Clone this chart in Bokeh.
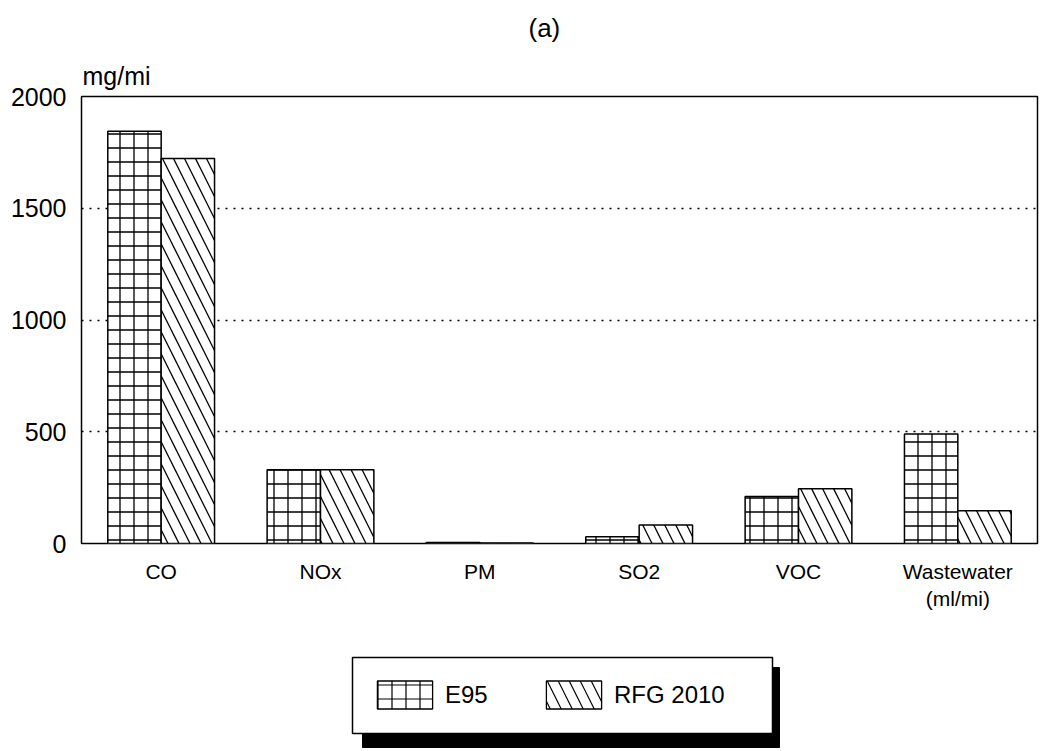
from bokeh.plotting import figure
from bokeh.models import (ColumnDataSource, FactorRange, Range1d, FixedTicker,
                          Title, Legend, LegendItem)
from bokeh.transform import dodge
from bokeh.layouts import column
from bokeh.embed import file_html
from bokeh.resources import INLINE

# ---- data ----
categories = ["CO", "NOx", "PM", "SO2", "VOC", "Wastewater\n(ml/mi)"]
e95 = [1845, 330, 5, 30, 210, 490]
rfg2010 = [1723, 330, 2, 83, 245, 147]
y_ticks = [0, 500, 1000, 1500, 2000]
grid_ticks = [500, 1000, 1500]
series_names = ["E95", "RFG 2010"]

FONT = "Liberation Sans"

src = ColumnDataSource(dict(cats=categories, e95=e95, rfg=rfg2010))

p = figure(width=1040, height=628, output_backend="svg", toolbar_location=None,
           x_range=FactorRange(*categories), y_range=Range1d(0, 2000),
           min_border_left=81, min_border_right=3, min_border_top=96,
           min_border_bottom=85)

p.title = Title(text="(a)", align="left", offset=447, standoff=20,
                text_font=FONT, text_font_size="26px", text_font_style="normal",
                text_color="black")
p.add_layout(Title(text="mg/mi", align="left", offset=1, standoff=14,
                   text_font=FONT, text_font_size="25px",
                   text_font_style="normal", text_color="black"), "above")

bar_w = 0.335
p.vbar(x=dodge("cats", -bar_w / 2, range=p.x_range), top="e95", width=bar_w,
       source=src, fill_color="white", line_color="black", line_width=1.5,
       hatch_pattern="+", hatch_scale=14, hatch_color="black", hatch_weight=1.3)
p.vbar(x=dodge("cats", bar_w / 2, range=p.x_range), top="rfg", width=bar_w,
       source=src, fill_color="white", line_color="black", line_width=1.5,
       hatch_pattern="\\", hatch_scale=22, hatch_color="black", hatch_weight=1.3)

p.outline_line_color = "black"
p.outline_line_width = 1.5
p.outline_line_alpha = 1

p.xgrid.grid_line_color = None
p.ygrid.ticker = FixedTicker(ticks=grid_ticks)
p.ygrid.grid_line_color = "black"
p.ygrid.grid_line_dash = "2 6"
p.ygrid.grid_line_width = 1.5

p.yaxis.ticker = FixedTicker(ticks=y_ticks)
for ax in (p.xaxis, p.yaxis):
    ax.axis_line_color = None
    ax.major_tick_line_color = None
    ax.minor_tick_line_color = None
    ax.major_tick_out = 0
    ax.major_tick_in = 0
    ax.major_label_text_font = FONT
    ax.major_label_text_color = "black"
p.yaxis.major_label_text_font_size = "25px"
p.yaxis.major_label_standoff = 15
p.xaxis.major_label_text_font_size = "21px"
p.xaxis.major_label_standoff = 16

# ---- legend panel (frame aligned with the chart frame; data units = page px) ----
p2 = figure(width=1040, height=122, output_backend="svg", toolbar_location=None,
            x_range=Range1d(81, 1037), y_range=Range1d(750, 628),
            x_axis_location=None, y_axis_location=None,
            min_border_left=81, min_border_right=3, min_border_top=0,
            min_border_bottom=0)
p2.outline_line_color = None
p2.grid.visible = False

# legend-only renderers (hidden beneath the legend box)
r1 = p2.vbar(x=[560], top=[700], bottom=[690], width=1,
             fill_color="white", line_color="black", line_width=1.3,
             hatch_pattern="+", hatch_scale=14, hatch_color="black",
             hatch_weight=1.2)
r2 = p2.vbar(x=[560], top=[700], bottom=[690], width=1,
             fill_color="white", line_color="black", line_width=1.3,
             hatch_pattern="\\", hatch_scale=22, hatch_color="black",
             hatch_weight=1.2)

p2.quad(left=[362], right=[779], top=[667], bottom=[747],
        fill_color="black", line_color="black")
p2.quad(left=[352], right=[772], top=[657], bottom=[733],
        fill_color="white", line_color="black", line_width=1.5)

legend = Legend(items=[LegendItem(label=series_names[0], renderers=[r1]),
                       LegendItem(label=series_names[1], renderers=[r2])],
                orientation="horizontal", location=(289, 38),
                padding=0, margin=0, spacing=6,
                glyph_width=69, glyph_height=35, label_standoff=6,
                label_width=88, label_height=35,
                label_text_font=FONT, label_text_font_size="24px",
                label_text_color="black",
                border_line_color=None, background_fill_alpha=0)
p2.add_layout(legend, "center")

layout = column(p, p2, spacing=0)
open("out.html", "w").write(file_html(layout, INLINE))
